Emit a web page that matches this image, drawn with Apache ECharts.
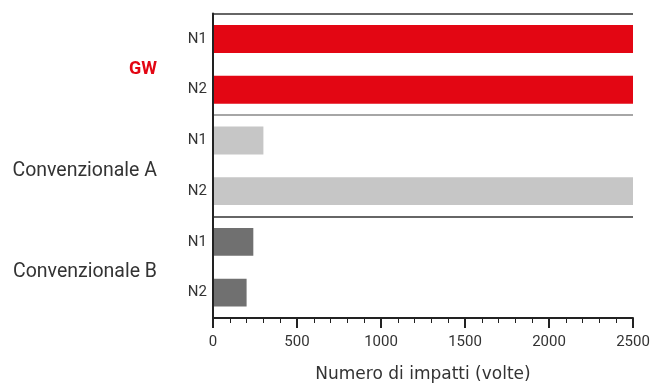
<!DOCTYPE html>
<html><head><meta charset="utf-8">
<script src="https://cdn.jsdelivr.net/npm/echarts@6/dist/echarts.min.js"></script>
<style>html,body{margin:0;padding:0;background:#fff}#c{width:655px;height:385px}</style>
</head><body><div id="c"></div>
<script>
const groups = ["GW", "Convenzionale A", "Convenzionale B"];
const subs = ["N1", "N2"];
const values = [2500, 2500, 300, 2500, 240, 200];
const groupColors = ["#E30613", "#C6C6C6", "#707070"];
const xTicks = [0, 500, 1000, 1500, 2000, 2500];

const keys = [];
groups.forEach((g, gi) => subs.forEach(s => keys.push(g + "|" + s)));
const barData = values.map((v, i) => ({ value: v, itemStyle: { color: groupColors[Math.floor(i / subs.length)] } }));

const FONT = "Roboto";
const chart = echarts.init(document.getElementById('c'));
chart.setOption({
  animation: false,
  grid: { left: 213, right: 22, top: 13.6, bottom: 67, outerBoundsMode: 'none', containLabel: false },
  xAxis: {
    type: 'value', min: xTicks[0], max: xTicks[xTicks.length - 1], interval: 500, z: 5,
    axisLine: { show: true, lineStyle: { color: '#222', width: 2 } },
    axisTick: { show: true, length: 10, lineStyle: { color: '#222', width: 2 } },
    minorTick: { show: true, splitNumber: 5, length: 5, lineStyle: { color: '#222', width: 1 } },
    splitLine: { show: false },
    axisLabel: { margin: 17, color: '#333', fontFamily: FONT, fontSize: 15, formatter: v => String(v) },
    name: 'Numero di impatti (volte)', nameLocation: 'middle', nameGap: 48,
    nameTextStyle: { color: '#333', fontFamily: 'DejaVu Sans', fontSize: 17 }
  },
  yAxis: [{
    type: 'category', data: keys, inverse: true, z: 5,
    axisLine: { show: true, lineStyle: { color: '#222', width: 2 } },
    axisTick: { show: false },
    axisLabel: { margin: 6, color: '#333', fontFamily: FONT, fontSize: 15, formatter: v => v.split('|')[1] },
    splitLine: { show: true, showMinLine: true, showMaxLine: false,
      interval: (i) => i === 0 || i === 2 || i === 4,
      lineStyle: { color: ['#333', '#888', '#333'], width: 1.5 } }
  }, {
    type: 'category', data: groups, inverse: true, position: 'left',
    axisLine: { show: false }, axisTick: { show: false }, splitLine: { show: false },
    axisLabel: { margin: 56, color: '#333', fontFamily: FONT, fontSize: 19.5, padding: [10, 0, 0, 0],
      formatter: v => v === 'GW' ? '{gw|' + v + '}' : v,
      rich: { gw: { color: '#E30613', fontWeight: 'bold', fontSize: 18, fontFamily: FONT } } }
  }],
  series: [{
    type: 'bar', data: barData, yAxisIndex: 0, barCategoryGap: '45%'
  }]
});
</script></body></html>
